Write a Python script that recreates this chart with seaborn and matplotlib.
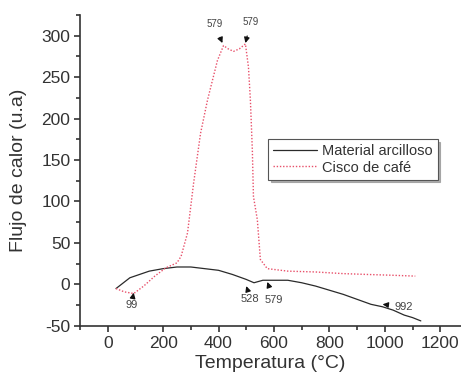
import numpy as np
import pandas as pd
import matplotlib
matplotlib.use("Agg")
import matplotlib.pyplot as plt
import seaborn as sns

# Material arcilloso (black solid)
arc_T = [30, 80, 150, 200, 250, 300, 350, 400, 450, 500, 528, 560, 600, 650, 700, 750, 800, 850, 900, 950, 992, 1030, 1070, 1100, 1130]
arc_Q = [-5, 8, 16, 19, 21, 21, 19, 17, 12, 6, 2, 5, 5, 5, 2, -2, -7, -12, -18, -24, -27, -31, -37, -40, -44]

# Cisco de café (red dotted)
caf_T = [30, 60, 94, 130, 170, 210, 250, 265, 288, 310, 335, 360, 396, 418, 435, 454, 475, 497, 508, 515, 522, 526, 540, 551, 576, 650, 750, 850, 937, 1030, 1110]
caf_Q = [-5, -9, -11, -2, 10, 20, 26, 34, 62, 122, 182, 222, 270, 288, 284, 281, 284, 290, 262, 222, 162, 106, 78, 30, 19, 16, 15, 13, 12, 11, 10]

ann_text = ["579", "579", "99", "528", "579", "992"]
ann_xy = [(414, 291), (497, 291), (94, -10), (500, -2), (576, 3), (992, -24)]
ann_xytext = [(385, 314), (516, 316), (85, -25), (515, -17), (600, -19), (1067, -27)]
ann_size = [7, 7, 8, 8, 8, 8]

sns.set_theme(style="ticks")
plt.rcParams['font.family'] = ['Liberation Sans', 'DejaVu Sans']
plt.rcParams['axes.unicode_minus'] = False

fig = plt.figure(figsize=(4.61, 3.72), dpi=100)
ax = fig.add_axes([0.1735, 0.124, 0.8265, 0.836])

df1 = pd.DataFrame({"T": arc_T, "Q": arc_Q})
df2 = pd.DataFrame({"T": caf_T, "Q": caf_Q})
sns.lineplot(data=df1, x="T", y="Q", ax=ax, color="#2a2a2a", lw=0.9, label="Material arcilloso")
sns.lineplot(data=df2, x="T", y="Q", ax=ax, color="#e8506a", lw=1.0, linestyle=(0, (1, 1.3)), label="Cisco de café")

for t, xy, xyt, fs in zip(ann_text, ann_xy, ann_xytext, ann_size):
    ax.annotate(t, xy=xy, xytext=xyt, fontsize=fs, color="#444444", ha="center", va="center",
                arrowprops=dict(arrowstyle="-|>", color="#111111", lw=0.9, mutation_scale=8, shrinkA=4, shrinkB=0))

ax.set_xlim(-100, 1275)
ax.set_ylim(-50, 325)
ax.set_xticks([0, 200, 400, 600, 800, 1000, 1200])
ax.set_xticks(np.arange(-100, 1300, 100), minor=True)
ax.set_yticks(np.arange(-50, 301, 50))
ax.set_yticks(np.arange(-50, 326, 25), minor=True)
ax.tick_params(axis="both", which="major", labelsize=12.5, length=4, width=1.2, color="#333333", labelcolor="#333333", pad=3)
ax.tick_params(axis="both", which="minor", length=3, width=1.2, color="#333333")
ax.set_xlabel("Temperatura (°C)", fontsize=14, color="#333333", labelpad=3)
ax.set_ylabel("Flujo de calor (u.a)", fontsize=14, color="#333333", labelpad=10)
for s in ["top", "right"]:
    ax.spines[s].set_visible(False)
for s in ["left", "bottom"]:
    ax.spines[s].set_color("#333333")
    ax.spines[s].set_linewidth(1.2)

leg = ax.legend(loc="upper left", bbox_to_anchor=(0.493, 0.60), fontsize=10.5, frameon=True, fancybox=False,
                shadow={"color": "#999999", "alpha": 0.8}, borderpad=0.35, handlelength=3.0, labelspacing=0.15,
                handletextpad=0.35, borderaxespad=0)
leg.get_frame().set_edgecolor("#555555")
leg.get_frame().set_linewidth(0.8)
for txt in leg.get_texts():
    txt.set_color("#333333")

fig.savefig("out.png", dpi=100)
